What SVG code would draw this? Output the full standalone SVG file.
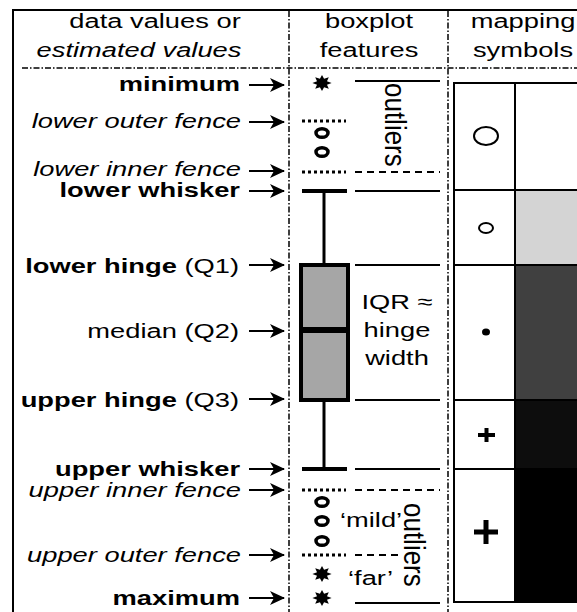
<svg xmlns="http://www.w3.org/2000/svg" width="577" height="612" viewBox="0 0 577 612">
<defs>
<style>
text{font-family:"Liberation Sans",Arial,sans-serif;font-size:21px;fill:#000}
.b{font-weight:bold}
.i{font-style:italic}
.e{text-anchor:end}
.m{text-anchor:middle}
.dd{stroke:#000;stroke-width:1.5;fill:none;stroke-dasharray:6 2 1.5 2}
.thin{stroke:#000;stroke-width:2;fill:none}
.dot{stroke:#000;stroke-width:3;stroke-dasharray:3 3;fill:none}
.dash{stroke:#000;stroke-width:2;stroke-dasharray:7 5;fill:none}
.oc{fill:none;stroke:#000;stroke-width:3.5}
.arr{stroke:#000;stroke-width:2;fill:none;marker-end:url(#ah)}
</style>
<marker id="ah" markerUnits="userSpaceOnUse" markerWidth="16" markerHeight="16" refX="14" refY="8" orient="auto">
<path d="M0,1 L15,8 L0,15 L4,8 Z" fill="#000"/>
</marker>
<polygon id="star" points="8,0 4.16,1.72 5.66,5.66 1.72,4.16 0,8 -1.72,4.16 -5.66,5.66 -4.16,1.72 -8,0 -4.16,-1.72 -5.66,-5.66 -1.72,-4.16 0,-8 1.72,-4.16 5.66,-5.66 4.16,-1.72" fill="#000"/>
</defs>
<rect width="577" height="612" fill="#fff"/>

<g id="frame">
<line x1="13" y1="10" x2="13" y2="612" class="thin"/>
<line x1="12" y1="10" x2="577" y2="10" class="thin"/>
<line x1="22" y1="68" x2="577" y2="68" class="dd"/>
<line x1="289" y1="11" x2="289" y2="612" class="dd"/>
<line x1="448" y1="11" x2="448" y2="612" class="dd"/>
</g>

<g id="headers">
<text class="m" transform="translate(155,28) scale(1.3,1)">data values or</text>
<text class="m i" transform="translate(139,57) scale(1.3,1)">estimated values</text>
<text class="m" transform="translate(369,28) scale(1.3,1)">boxplot</text>
<text class="m" transform="translate(369,57) scale(1.3,1)">features</text>
<text class="m" transform="translate(523,28) scale(1.3,1)">mapping</text>
<text class="m" transform="translate(523,57) scale(1.3,1)">symbols</text>
</g>

<g id="labels">
<text class="e b" transform="translate(240,91) scale(1.3,1)">minimum</text>
<text class="e i" transform="translate(241,128) scale(1.3,1)">lower outer fence</text>
<text class="e i" transform="translate(241,176) scale(1.3,1)">lower inner fence</text>
<text class="e b" transform="translate(240,197) scale(1.3,1)">lower whisker</text>
<text class="e" transform="translate(239,273) scale(1.3,1)"><tspan class="b">lower hinge</tspan> (Q1)</text>
<text class="e" transform="translate(239,338) scale(1.3,1)">median (Q2)</text>
<text class="e" transform="translate(239,407) scale(1.3,1)"><tspan class="b">upper hinge</tspan> (Q3)</text>
<text class="e b" transform="translate(240,476) scale(1.3,1)">upper whisker</text>
<text class="e i" transform="translate(241,497) scale(1.3,1)">upper inner fence</text>
<text class="e i" transform="translate(241,562) scale(1.3,1)">upper outer fence</text>
<text class="e b" transform="translate(240,605) scale(1.3,1)">maximum</text>
</g>

<g id="connectors">
<line x1="249" y1="85" x2="284" y2="85" class="arr"/>
<line x1="249" y1="122" x2="284" y2="122" class="arr"/>
<line x1="249" y1="171" x2="284" y2="171" class="arr"/>
<line x1="249" y1="191" x2="284" y2="191" class="arr"/>
<line x1="249" y1="265" x2="284" y2="265" class="arr"/>
<line x1="249" y1="331" x2="284" y2="331" class="arr"/>
<line x1="249" y1="399" x2="284" y2="399" class="arr"/>
<line x1="249" y1="469" x2="284" y2="469" class="arr"/>
<line x1="249" y1="490" x2="284" y2="490" class="arr"/>
<line x1="249" y1="555" x2="284" y2="555" class="arr"/>
<line x1="249" y1="598" x2="284" y2="598" class="arr"/>
</g>

<g id="boxplot">
<use href="#star" transform="translate(322,83) scale(1.2,1)"/>
<line x1="355" y1="81" x2="440" y2="81" class="thin"/>
<line x1="302" y1="121" x2="346" y2="121" class="dot"/>
<ellipse cx="322" cy="133" rx="6" ry="4.3" class="oc"/>
<ellipse cx="322" cy="152" rx="6" ry="4.3" class="oc"/>
<line x1="302" y1="172" x2="346" y2="172" class="dot"/>
<line x1="355" y1="172" x2="440" y2="172" class="dash"/>
<text transform="translate(385,83) scale(1.15,1) rotate(90)" style="font-size:26px">outliers</text>

<line x1="302" y1="191" x2="347" y2="191" stroke="#000" stroke-width="4"/>
<line x1="355" y1="191" x2="440" y2="191" class="thin"/>
<line x1="324" y1="191" x2="324" y2="265" stroke="#000" stroke-width="3"/>
<rect x="301" y="265" width="47" height="135" fill="#a6a6a6" stroke="#000" stroke-width="4"/>
<line x1="301" y1="330" x2="348" y2="330" stroke="#000" stroke-width="6"/>
<line x1="355" y1="265" x2="440" y2="265" class="thin"/>
<line x1="355" y1="400" x2="440" y2="400" class="thin"/>
<text class="m" transform="translate(397,309) scale(1.3,1)">IQR ≈</text>
<text class="m" transform="translate(397,337) scale(1.3,1)">hinge</text>
<text class="m" transform="translate(397,365) scale(1.3,1)">width</text>
<line x1="324" y1="400" x2="324" y2="469" stroke="#000" stroke-width="3"/>
<line x1="302" y1="469" x2="347" y2="469" stroke="#000" stroke-width="4"/>
<line x1="355" y1="469" x2="440" y2="469" class="thin"/>

<line x1="302" y1="490" x2="346" y2="490" class="dot"/>
<line x1="355" y1="490" x2="440" y2="490" class="dash"/>
<ellipse cx="322" cy="502" rx="6" ry="4.3" class="oc"/>
<ellipse cx="322" cy="521" rx="6" ry="4.3" class="oc"/>
<ellipse cx="322" cy="541" rx="6" ry="4.3" class="oc"/>
<text transform="translate(340,527) scale(1.3,1)">‘mild’</text>
<line x1="302" y1="555" x2="346" y2="555" class="dot"/>
<line x1="355" y1="555" x2="398" y2="555" class="dash"/>
<use href="#star" transform="translate(322,574) scale(1.2,1)"/>
<use href="#star" transform="translate(322,598) scale(1.2,1)"/>
<text transform="translate(348,585) scale(1.3,1)">‘far’</text>
<line x1="355" y1="603" x2="440" y2="603" class="thin"/>
<text transform="translate(404,503) scale(1.15,1) rotate(90)" style="font-size:26px">outliers</text>
</g>

<g id="mapping">
<rect x="515" y="190" width="62" height="75" fill="#d4d4d4"/>
<rect x="515" y="265" width="62" height="135" fill="#404040"/>
<rect x="515" y="400" width="62" height="69" fill="#0d0d0d"/>
<rect x="515" y="469" width="62" height="133" fill="#000"/>
<rect x="454" y="83" width="130" height="519" fill="none" stroke="#000" stroke-width="2"/>
<line x1="515" y1="83" x2="515" y2="602" class="thin"/>
<line x1="454" y1="190" x2="577" y2="190" class="thin"/>
<line x1="454" y1="265" x2="577" y2="265" class="thin"/>
<line x1="454" y1="400" x2="577" y2="400" class="thin"/>
<line x1="454" y1="469" x2="577" y2="469" class="thin"/>
<ellipse cx="486" cy="136" rx="12" ry="9" fill="none" stroke="#000" stroke-width="2"/>
<ellipse cx="486" cy="228" rx="7" ry="5" fill="none" stroke="#000" stroke-width="2"/>
<ellipse cx="486" cy="332" rx="4" ry="3.5" fill="#000"/>
<path d="M478,435 H495 M486.5,428 V442" stroke="#000" stroke-width="4"/>
<path d="M474,532 H498 M486,520 V544" stroke="#000" stroke-width="5"/>
</g>
</svg>
